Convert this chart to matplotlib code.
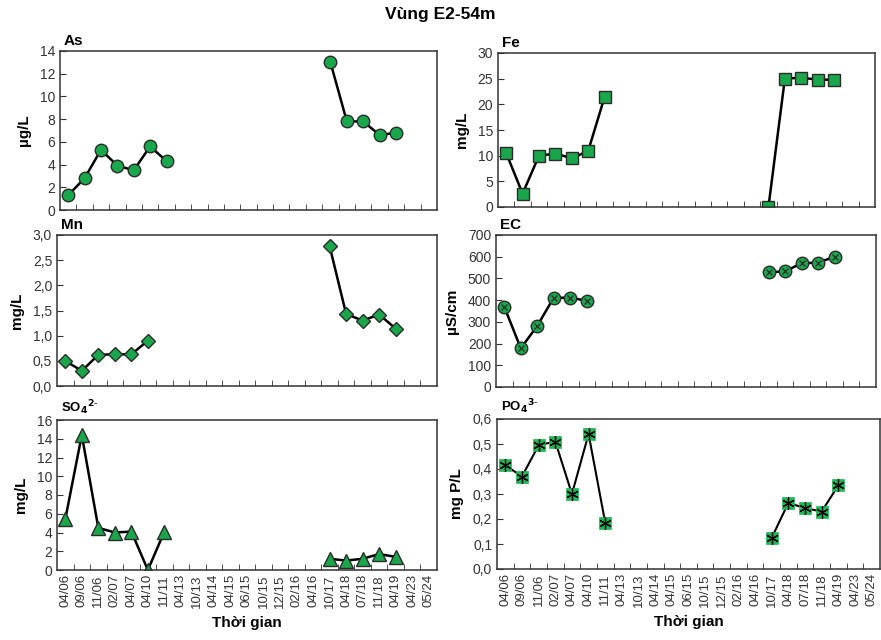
import matplotlib.pyplot as plt
import numpy as np

plt.rcParams['font.family'] = ['Liberation Sans', 'DejaVu Sans']

nan = np.nan

# time categories (mm/yy)
dates = ['04/06', '09/06', '11/06', '02/07', '04/07', '04/10', '11/11', '04/13',
         '10/13', '04/14', '04/15', '06/15', '10/15', '12/15', '02/16', '04/16',
         '10/17', '04/18', '07/18', '11/18', '04/19', '04/23', '05/24']

as_vals = [1.3, 2.8, 5.3, 3.9, 3.5, 5.6, 4.3, nan, nan, nan, nan, nan, nan, nan, nan, nan,
           13.0, 7.8, 7.8, 6.6, 6.8, nan, nan]
fe_vals = [10.5, 2.6, 10.0, 10.4, 9.5, 10.9, 21.4, nan, nan, nan, nan, nan, nan, nan, nan, nan,
           0.0, 25.0, 25.2, 24.8, 24.8, nan, nan]
mn_vals = [0.5, 0.3, 0.62, 0.63, 0.63, 0.9, nan, nan, nan, nan, nan, nan, nan, nan, nan, nan,
           2.78, 1.43, 1.3, 1.42, 1.14, nan, nan]
ec_vals = [370, 178, 282, 412, 410, 398, nan, nan, nan, nan, nan, nan, nan, nan, nan, nan,
           528, 533, 570, 573, 600, nan, nan]
so4_vals = [5.4, 14.4, 4.5, 4.0, 4.1, 0.0, 4.1, nan, nan, nan, nan, nan, nan, nan, nan, nan,
            1.2, 1.0, 1.2, 1.7, 1.4, nan, nan]
po4_vals = [0.415, 0.37, 0.495, 0.51, 0.30, 0.54, 0.185, nan, nan, nan, nan, nan, nan, nan, nan, nan,
            0.125, 0.265, 0.243, 0.23, 0.335, nan, nan]

green = '#1aa64a'
edge = '#2b2b2b'

W, H = 881, 640
fig = plt.figure(figsize=(W / 100, H / 100), dpi=100)


def make_ax(l, t, r, b):
    return fig.add_axes([l / W, 1 - b / H, (r - l) / W, (b - t) / H])


def style(ax, ymax, ystep, title, ylabel, comma=False, xlabels=False, tsize=11):
    x = np.arange(len(dates))
    ax.set_xlim(-0.5, len(dates) - 0.5)
    ax.set_ylim(0, ymax)
    yt = np.arange(0, ymax + ystep / 2, ystep)
    ax.set_yticks(yt)
    if comma:
        ax.set_yticklabels([f'{v:.1f}'.replace('.', ',') for v in yt])
    else:
        ax.set_yticklabels([f'{v:g}' for v in yt])
    ax.set_xticks(x)
    ax.set_xticks(np.arange(0.5, len(dates) - 1, 1), minor=True)
    if xlabels:
        ax.set_xticklabels(dates, rotation=90, fontsize=9.5, color='#333333')
    else:
        ax.set_xticklabels([])
    ax.tick_params(axis='x', which='major', length=0, pad=3)
    ax.tick_params(axis='x', which='minor', direction='in', length=4, color='#333333')
    ax.tick_params(axis='y', direction='in', length=4, labelsize=10, labelcolor='#333333',
                   color='#333333')
    for s in ax.spines.values():
        s.set_color('#333333')
        s.set_linewidth(1.1)
    ax.text(0.01, 1.02, title, transform=ax.transAxes, fontsize=tsize, fontweight='bold',
            ha='left', va='bottom')
    ax.set_ylabel(ylabel, fontsize=11, fontweight='bold', labelpad=6)


x = np.arange(len(dates))
lk = dict(color='black', lw=1.8, zorder=2)

# As
ax = make_ax(60, 51, 437, 210)
ax.plot(x, as_vals, marker='o', ms=9, mfc=green, mec=edge, mew=1, **lk)
style(ax, 14, 2, 'As', 'µg/L')

# Fe
ax = make_ax(498, 53, 875, 207)
ax.plot(x, fe_vals, marker='s', ms=9, mfc=green, mec=edge, mew=1, **lk)
style(ax, 30, 5, 'Fe', 'mg/L')

# Mn
ax = make_ax(57, 235, 437, 386)
ax.plot(x, mn_vals, marker='D', ms=7.5, mfc=green, mec=edge, mew=1, **lk)
style(ax, 3.0, 0.5, 'Mn', 'mg/L', comma=True)

# EC
ax = make_ax(496, 235, 876, 387)
ax.plot(x, ec_vals, marker='o', ms=9, mfc=green, mec=edge, mew=1, **lk)
ax.plot(x, ec_vals, ls='none', marker='x', ms=5, mec=edge, mew=0.9, zorder=3)
style(ax, 700, 100, 'EC', 'µS/cm')

# SO4
ax = make_ax(57, 420, 437, 570)
ax.plot(x, so4_vals, marker='^', ms=10, mfc=green, mec=edge, mew=1, **lk)
style(ax, 16, 2, r'SO$_\mathbf{4}$$^\mathbf{2\text{-}}$', 'mg/L', xlabels=True, tsize=9.5)
ax.set_xlabel('Thời gian', fontsize=11, fontweight='bold', labelpad=6)

# PO4
ax = make_ax(497, 419, 880, 569)
ax.plot(x, po4_vals, color='black', lw=1.5, zorder=2, marker='s', ms=9, mfc='#22b455',
        mec='#22b455', mew=0.5)
ax.plot(x, po4_vals, ls='none', marker=(6, 2, 0), ms=9, mec='black', mew=0.9, zorder=3)
style(ax, 0.6, 0.1, r'PO$_\mathbf{4}$$^\mathbf{3\text{-}}$', 'mg P/L', comma=True,
      xlabels=True, tsize=9.5)
ax.set_xlabel('Thời gian', fontsize=11, fontweight='bold', labelpad=6)

fig.text(0.5, 1 - 15 / H, 'Vùng E2-54m', ha='center', va='center', fontsize=12.5,
         fontweight='bold')

fig.savefig('out.png', dpi=100)
